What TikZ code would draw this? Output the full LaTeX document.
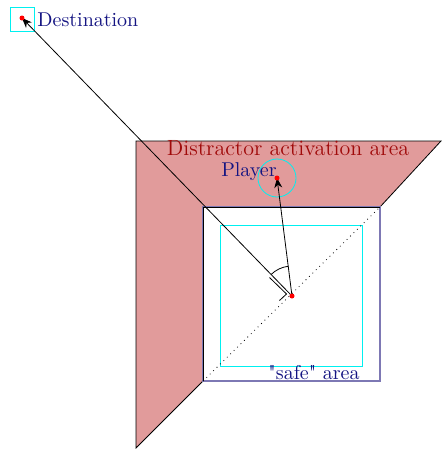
\documentclass[tikz,border=0pt]{standalone}
\usetikzlibrary{arrows.meta,calc}
\definecolor{pinkarea}{RGB}{225,155,155}
\definecolor{navytext}{RGB}{20,20,130}
\definecolor{redtext}{RGB}{160,10,10}
\definecolor{sqblue}{RGB}{125,120,180}
\definecolor{cyanline}{RGB}{0,240,240}
\tikzset{
  lbl/.style={inner sep=0pt, font=\normalsize},
  dot/.style={circle, fill=red, inner sep=0pt, minimum size=2.5pt},
  arr/.style={-{Stealth[length=5pt,width=4pt]}, thin}
}
\begin{document}
\begin{tikzpicture}[x=0.5pt,y=-0.5pt]
\useasboundingbox (0,0) rectangle (441,450);
% pink area
\filldraw[fill=pinkarea, draw=black, thin] (136,141) -- (441,141) -- (380,207) -- (203,207) -- (203,381) -- (136,448) -- cycle;
% safe square
\draw[sqblue, semithick] (203,207) rectangle (380,381);
\draw[black, thin] (380,207) -- (203,207) -- (203,381);
\draw[cyanline, thin] (220,225) rectangle (362,366);
\coordinate (bl) at (203,381);
\coordinate (tr) at (380,207);
\draw[dotted, thin] (bl) -- (tr);
% points
\coordinate (me) at (292,296);
\coordinate (dst) at (22,18);
\coordinate (plr) at (277,178);
\draw[cyanline, thin] (10,7) rectangle (34,31);
\draw[cyanline, thin] (plr) circle (19);
% lines
\draw[arr] (me) -- (dst);
\draw[arr] (me) -- (plr);
% angle arc
\draw[thin] ($(me)+(134.2:30 and -30)$) arc[start angle=-134.2, end angle=-96.8, radius=30];
% tick marker
\coordinate (t1) at (269.5,277.5);
\coordinate (t2) at (286.5,294);
\coordinate (t3) at (279.5,300.5);
\draw[thin] (t1) -- (t2) -- (t3);
\node[dot] (dstdot) at (dst) {};
\node[dot] (medot) at (me) {};
\node[dot] (plrdot) at (plr) {};
% labels
\node[lbl, text=navytext, anchor=west] (dstlbl) at (37,20) {Destination};
\node[lbl, text=redtext, font=\fontsize{11}{13}\selectfont] (distlbl) at (288,148) {Distractor activation area};
\node[lbl, text=navytext, anchor=east] (plrlbl) at (277,172) {Player};
\node[lbl, text=navytext] (safelbl) at (314,373) {\textquotedbl safe\textquotedbl{} area};
\end{tikzpicture}
\end{document}
